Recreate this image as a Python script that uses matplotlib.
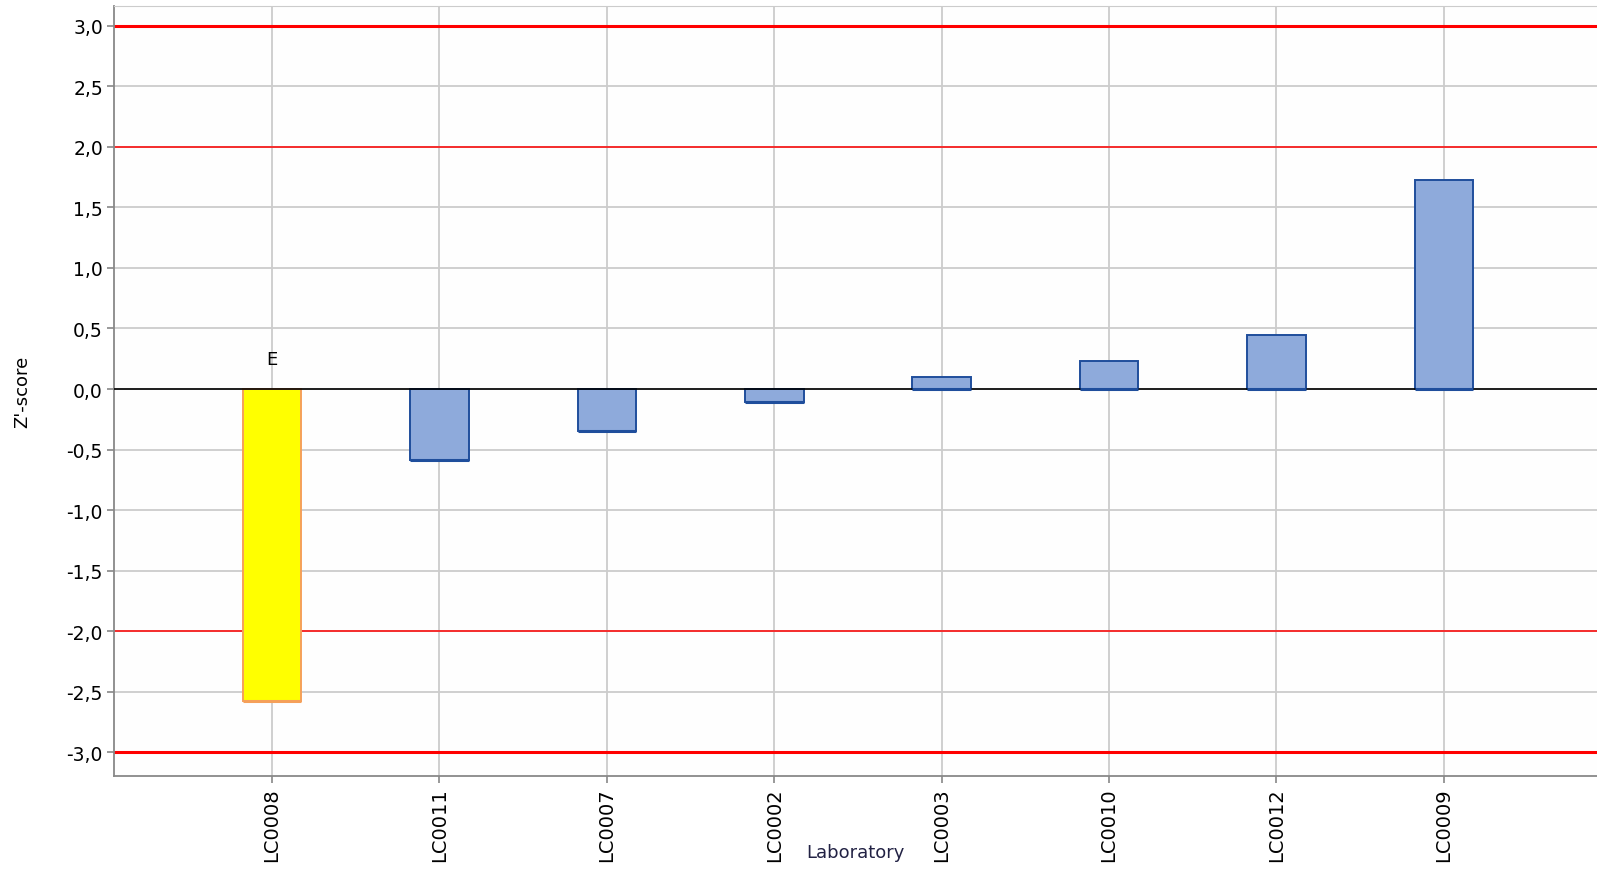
import matplotlib
matplotlib.use("Agg")
import matplotlib.pyplot as plt
from matplotlib.ticker import FuncFormatter, MultipleLocator

############## Data ##############

labs = ["LC0008", "LC0011", "LC0007", "LC0002", "LC0003", "LC0010", "LC0012", "LC0009"]
zscores = [-2.58, -0.59, -0.35, -0.11, 0.10, 0.23, 0.45, 1.73]
flags = ["E", "", "", "", "", "", "", ""]

warn_limit = 2.0
action_limit = 3.0

############## Plot ##############

fig = plt.figure(figsize=(15.97, 8.70), dpi=100)
ax = fig.add_axes([114/1597, 93/870, 1 - 114/1597, (777-7)/870])

x = list(range(len(labs)))
w = 0.35
fills = ["#ffff00" if f else "#8eaadb" for f in flags]
edges = ["#f5a05a" if f else "#1f4e9c" for f in flags]

ax.bar(x, zscores, width=w, color=fills, edgecolor=edges, linewidth=1.4, zorder=3)
# darker, thicker edge along the lower side of each bar (shadow)
lows = [min(0, z) for z in zscores]
ax.hlines(lows, [i - w/2 for i in x], [i + w/2 for i in x], colors=edges, linewidth=2.2, zorder=4)

for i in x:
    if flags[i]:
        ax.text(i, 0.25, flags[i], ha="center", va="center", fontsize=13, zorder=4)

ax.axhline(0, color="black", linewidth=1.2, zorder=3.5)
for lim in [warn_limit, -warn_limit]:
    ax.axhline(lim, color="#ff0000", linewidth=1.1, zorder=2)
for lim in [action_limit, -action_limit]:
    ax.axhline(lim, color="#ff0000", linewidth=2.2, zorder=2)

ax.set_xlim(-0.944, 7.915)
ax.set_ylim(-3.198, 3.165)
ax.set_xticks(x)
ax.set_xticklabels(labs, rotation=90, fontsize=14)
ax.yaxis.set_major_locator(MultipleLocator(0.5))
ax.yaxis.set_major_formatter(FuncFormatter(lambda v, p: ("%.1f" % v).replace(".", ",").replace("-0,0", "0,0")))
ax.tick_params(axis="y", labelsize=13.5)
ax.tick_params(direction="out", length=5, color="#888888", width=1.2, pad=3)

ax.grid(True, color="#cccccc", linewidth=1.3, zorder=0)
ax.set_axisbelow(True)
ax.set_facecolor("#fefefe")

ax.spines["left"].set_color("#888888")
ax.spines["bottom"].set_color("#888888")
ax.spines["left"].set_linewidth(1.3)
ax.spines["bottom"].set_linewidth(1.3)
ax.spines["top"].set_color("#cccccc")
ax.spines["right"].set_visible(False)

fig.text(855/1597, 1 - 853/870, "Laboratory", ha="center", va="center", fontsize=13, color="#222244")
fig.text(22/1597, 1 - 392/870, "Z'-score", ha="center", va="center", rotation=90, fontsize=13)

fig.savefig("out.png", dpi=100)
